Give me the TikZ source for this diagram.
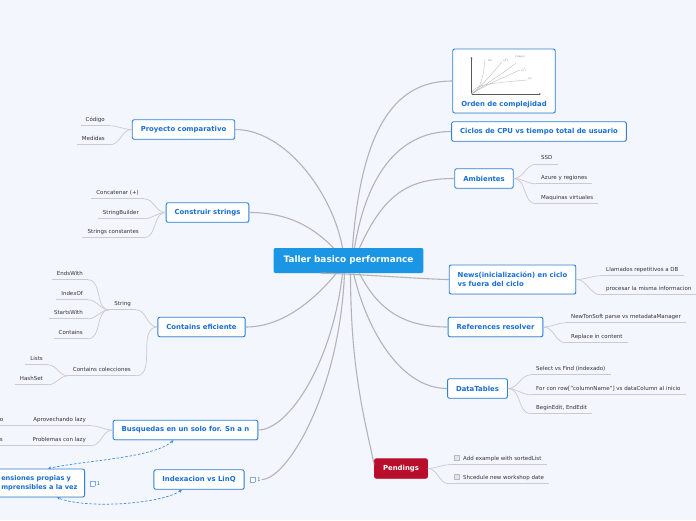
\documentclass[tikz,border=0pt]{standalone}
\usepackage{fontspec}
\setmainfont{DejaVu Sans}
\usepackage{xcolor}
\usepackage{tikz}
\usetikzlibrary{arrows.meta,shadows}

\definecolor{hintergrund}{RGB}{243,246,253}
\definecolor{wurzelblau}{RGB}{26,150,228}
\definecolor{randblau}{RGB}{45,130,215}
\definecolor{textblau}{RGB}{25,110,210}
\definecolor{astgrau}{RGB}{180,180,184}
\definecolor{zweiggrau}{RGB}{202,202,208}
\definecolor{blatttext}{RGB}{50,50,55}
\definecolor{pendrot}{RGB}{184,14,44}
\definecolor{bezugblau}{RGB}{60,140,225}
\definecolor{kastengrau}{RGB}{185,185,190}
\definecolor{kastenfuell}{RGB}{228,228,232}
\definecolor{notizrand}{RGB}{130,170,225}

\newcommand{\aufgabe}{{\setlength{\fboxsep}{0pt}\setlength{\fboxrule}{0.4pt}%
  \fcolorbox{kastengrau}{kastenfuell}{\makebox[4.6pt]{\rule{0pt}{4.6pt}}}}}
\newcommand{\notiz}{{\setlength{\fboxsep}{0pt}\setlength{\fboxrule}{0.4pt}%
  \fcolorbox{notizrand}{white}{\makebox[4.2pt]{\rule{0pt}{4.2pt}}}}}

\begin{document}
\begin{tikzpicture}[x=1pt,y=-1pt,
  wurzel/.style={fill=wurzelblau,text=white,rounded corners=2pt,
    font=\fontsize{8.9}{10}\selectfont\bfseries,minimum height=25pt,inner xsep=10pt},
  thema/.style={draw=randblau,line width=0.9pt,fill=white,text=textblau,rounded corners=2pt,
    font=\fontsize{6.9}{9}\selectfont\bfseries,minimum height=19.5pt,inner xsep=8.5pt,
    drop shadow={shadow xshift=0.5pt,shadow yshift=-0.8pt,opacity=0.2}},
  blatt/.style={text=blatttext,font=\fontsize{5.5}{6.5}\selectfont,
    text height=4pt,text depth=1.2pt,inner xsep=5pt,inner ysep=3pt,
    append after command={(\tikzlastnode.south west) edge[zweig] (\tikzlastnode.south east)}},
  ast/.style={draw=astgrau,line width=1.1pt},
  zweig/.style={draw=zweiggrau,line width=0.7pt},
  bezug/.style={draw=bezugblau,line width=0.7pt,dash pattern=on 2.5pt off 1.8pt,
    {Stealth[length=3.2pt,width=3pt]}-{Stealth[length=3.2pt,width=3pt]}},
  notizmarke/.style={text=textblau,font=\fontsize{5}{6}\selectfont,inner sep=1pt},
  kurve/.style={draw=gray!55,line width=0.35pt},
  kurvtext/.style={text=gray!80!black,font=\fontsize{2.3}{3}\selectfont,inner sep=0pt}]

  \useasboundingbox (0,0) rectangle (696,520);
  \fill[hintergrund] (0,0) rectangle (696,520);

  % Wurzel
  \node[wurzel] (root) at (348.5,260.5) {Taller basico performance};

  % Themen rechts
  \node[thema,minimum width=102pt,minimum height=0pt,text height=53pt,text depth=3pt,inner ysep=4pt]
    (orden) at (504,81) {Orden de complejidad};
  \node[thema] (ciclos) at (539,131.5) {Ciclos de CPU vs tiempo total de usuario};
  \node[thema] (ambientes) at (484,178.5) {Ambientes};
  \node[thema,align=left,minimum height=29pt] (news) at (512.5,279.5)
    {News(inicialización) en ciclo\\vs fuera del ciclo};
  \node[thema] (refs) at (495.5,327) {References resolver};
  \node[thema] (datatables) at (477.5,388.5) {DataTables};
  \node[thema,fill=pendrot,draw=pendrot,text=white] (pendings) at (401,468.5) {Pendings};

  % Themen links
  \node[thema] (proyecto) at (183.5,129.5) {Proyecto comparativo};
  \node[thema] (construir) at (207.5,212.5) {Construir strings};
  \node[thema] (contains) at (201.5,327) {Contains eficiente};
  \node[thema] (busquedas) at (185.5,430) {Busquedas en un solo for. Sn a n};
  \node[thema] (indexacion) at (199,479.5) {Indexacion vs LinQ};
  \node[thema,align=left,anchor=east,minimum height=28pt,inner xsep=7pt,
    font=\fontsize{6.6}{8.6}\selectfont\bfseries] (extensiones) at (85,483)
    {ensiones propias y\\mprensibles a la vez};
  \node[notizmarke] (extnotiz) at (95,483.5) {\notiz\hspace{2pt}1};
  \node[notizmarke] (indexnotiz) at (255.5,479.5) {\notiz\hspace{2pt}1};

  % kleines Diagramm im Knoten
  \draw[gray!70!black,line width=0.35pt,-{Stealth[length=1.8pt,width=1.6pt]}] (471.5,94) -- (471.5,57);
  \draw[gray!70!black,line width=0.35pt,-{Stealth[length=1.8pt,width=1.6pt]}] (471.5,94) -- (541,94);
  \draw[kurve] (471.5,94) .. controls (480,92) and (484,75) .. (485,59);
  \draw[kurve] (471.5,94) .. controls (482,86) and (495,70) .. (502,62);
  \draw[kurve] (471.5,94) .. controls (486,84) and (505,72) .. (516,63);
  \draw[kurve] (471.5,94) .. controls (484,86) and (502,78) .. (520,70);
  \draw[kurve] (471.5,94) .. controls (474,86) and (480,84) .. (527,80);
  \node[kurvtext] (lfak) at (490,61) {(n!)};
  \node[kurvtext] (lexp) at (506,60) {(2\textsuperscript{n})};
  \node[kurvtext] (llog) at (520,57) {(n log n)};
  \node[kurvtext] (lqua) at (524,70) {(n\textsuperscript{2})};
  \node[kurvtext] (llin) at (530,79) {(n)};

  % Aeste von der Wurzel
  \draw[ast] ([xshift=4pt]root.north) .. controls +(10,-140) and +(-45,0) .. (orden.west);
  \draw[ast] ([xshift=6pt]root.north) .. controls +(15,-90) and +(-40,0) .. (ciclos.west);
  \draw[ast] ([xshift=11pt]root.north) .. controls +(25,-55) and +(-45,0) .. (ambientes.west);
  \draw[ast] ([xshift=-28pt]root.south) .. controls +(25,0) and +(-20,0) .. (news.west);
  \draw[ast] ([xshift=11pt]root.south) .. controls +(20,40) and +(-40,0) .. (refs.west);
  \draw[ast] ([xshift=5pt]root.south) .. controls +(14,60) and +(-45,0) .. (datatables.west);
  \draw[ast] ([xshift=2pt]root.south) .. controls +(0,100) and +(-8,-40) .. ([yshift=4pt]pendings.west);
  \draw[ast] ([xshift=-6pt]root.north) .. controls +(-10,-55) and +(50,0) .. (proyecto.east);
  \draw[ast] ([xshift=-15pt]root.north) .. controls +(-20,-20) and +(40,0) .. (construir.east);
  \draw[ast] ([xshift=-12pt]root.south) .. controls +(-25,30) and +(35,0) .. (contains.east);
  \draw[ast] ([xshift=-6pt]root.south) .. controls +(-10,90) and +(30,0) .. (busquedas.east);
  \draw[ast] ([xshift=-4pt]root.south) .. controls +(-5,120) and +(25,0) .. (indexnotiz.east);

  % Blaetter rechts
  \node[blatt,anchor=west] (ssd) at (536,158.5) {SSD};
  \node[blatt,anchor=west] (azure) at (536,178) {Azure y regiones};
  \node[blatt,anchor=west] (maquinas) at (536,198) {Maquinas virtuales};
  \node[blatt,anchor=west] (llamados) at (601,270) {Llamados repetitivos a DB};
  \node[blatt,anchor=west] (procesar) at (601,289) {procesar la misma informacion};
  \node[blatt,anchor=west] (newton) at (566,317) {NewTonSoft parse vs metadataManager};
  \node[blatt,anchor=west] (replace) at (566,337) {Replace in content};
  \node[blatt,anchor=west] (select) at (531,369) {Select vs Find (indexado)};
  \node[blatt,anchor=west] (forcon) at (531,389) {For con row["columnName"] vs dataColumn al inicio};
  \node[blatt,anchor=west] (beginedit) at (531,408) {BeginEdit, EndEdit};
  \node[blatt,anchor=west] (sorted) at (449,459) {\aufgabe\hspace{3.5pt}Add example with sortedList};
  \node[blatt,anchor=west] (schedule) at (449,478) {\aufgabe\hspace{3.5pt}Shcedule new workshop date};

  \foreach \blatt in {ssd,azure,maquinas}
    \draw[zweig] (ambientes.east) to[out=0,in=180] (\blatt.south west);
  \foreach \blatt in {llamados,procesar}
    \draw[zweig] (news.east) to[out=0,in=180] (\blatt.south west);
  \foreach \blatt in {newton,replace}
    \draw[zweig] (refs.east) to[out=0,in=180] (\blatt.south west);
  \foreach \blatt in {select,forcon,beginedit}
    \draw[zweig] (datatables.east) to[out=0,in=180] (\blatt.south west);
  \foreach \blatt in {sorted,schedule}
    \draw[zweig] (pendings.east) to[out=0,in=180] (\blatt.south west);

  % Blaetter links
  \node[blatt,anchor=east] (codigo) at (110,120) {Código};
  \node[blatt,anchor=east] (medidas) at (110,139) {Medidas};
  \node[blatt,anchor=east] (concat) at (144,193) {Concatenar (+)};
  \node[blatt,anchor=east] (builder) at (144,213) {StringBuilder};
  \node[blatt,anchor=east] (constantes) at (144,232) {Strings constantes};
  \node[blatt,anchor=east] (string) at (136,304) {String};
  \node[blatt,anchor=east] (colecciones) at (136,370) {Contains colecciones};
  \node[blatt,anchor=east] (endswith) at (88,274) {EndsWith};
  \node[blatt,anchor=east] (indexof) at (88,294) {IndexOf};
  \node[blatt,anchor=east] (startswith) at (88,313) {StartsWith};
  \node[blatt,anchor=east] (containsstr) at (88,333) {Contains};
  \node[blatt,anchor=east] (lists) at (48,359) {Lists};
  \node[blatt,anchor=east] (hashset) at (48,379) {HashSet};
  \node[blatt,anchor=east] (aprovechando) at (91,420) {Aprovechando lazy};
  \node[blatt,anchor=east] (problemas) at (91,440) {Problemas con lazy};
  \node[blatt,anchor=east] (restuno) at (8.5,420) {o};
  \node[blatt,anchor=east] (restdos) at (8,440) {s};

  \foreach \blatt in {codigo,medidas}
    \draw[zweig] (proyecto.west) to[out=180,in=0] (\blatt.south east);
  \foreach \blatt in {concat,builder,constantes}
    \draw[zweig] (construir.west) to[out=180,in=0] (\blatt.south east);
  \foreach \blatt in {string,colecciones}
    \draw[zweig] (contains.west) to[out=180,in=0] (\blatt.south east);
  \foreach \blatt in {endswith,indexof,startswith,containsstr}
    \draw[zweig] (string.south west) to[out=180,in=0] (\blatt.south east);
  \foreach \blatt in {lists,hashset}
    \draw[zweig] (colecciones.south west) to[out=180,in=0] (\blatt.south east);
  \foreach \blatt in {aprovechando,problemas}
    \draw[zweig] (busquedas.west) to[out=180,in=0] (\blatt.south east);
  \draw[zweig] (aprovechando.south west) to[out=180,in=0] (restuno.south east);
  \draw[zweig] (problemas.south west) to[out=180,in=0] (restdos.south east);

  % Beziehungen
  \draw[bezug] ([xshift=-12pt]busquedas.south) .. controls +(-20,18) and +(35,-8) .. ([xshift=-37pt]extensiones.north east);
  \draw[bezug] ([xshift=-17pt]indexacion.south) .. controls +(-20,14) and +(30,12) .. ([xshift=-28pt]extensiones.south east);
\end{tikzpicture}
\end{document}
